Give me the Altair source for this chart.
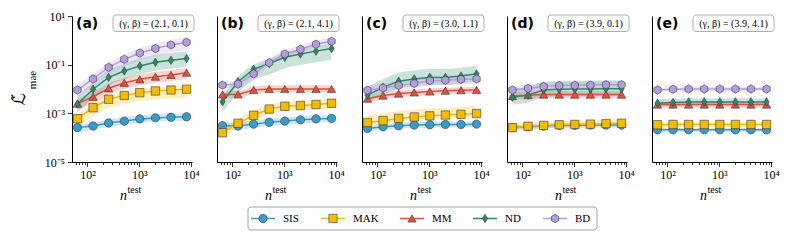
import altair as alt
import pandas as pd

# ---------------- data ----------------
N_TEST = [64, 128, 256, 512, 1024, 2048, 4096, 8192]
SERIES = ["SIS", "MAK", "MM", "ND", "BD"]
COLORS = ["#3a9bc9", "#f2bb05", "#e0503f", "#2b8a6c", "#b39ddd"]
PANEL_TAGS = ["(a)", "(b)", "(c)", "(d)", "(e)"]
PARAMS = ["(γ, β) = (2.1, 0.1)", "(γ, β) = (2.1, 4.1)", "(γ, β) = (3.0, 1.1)",
          "(γ, β) = (3.9, 0.1)", "(γ, β) = (3.9, 4.1)"]

A_SIS = [2.6e-4, 3.0e-4, 4.0e-4, 4.8e-4, 5.9e-4, 6.5e-4, 6.9e-4, 7.2e-4]
A_MAK = [6.0e-4, 1.7e-3, 3.8e-3, 5.4e-3, 7.1e-3, 8.3e-3, 9.1e-3, 9.8e-3]
A_MM = [2.5e-3, 4.8e-3, 1.07e-2, 1.8e-2, 2.5e-2, 3.2e-2, 3.8e-2, 4.7e-2]
A_ND = [2.4e-3, 9.8e-3, 3.0e-2, 5.5e-2, 8.9e-2, 0.126, 0.151, 0.178]
A_BD = [9.1e-3, 2.6e-2, 7.8e-2, 0.166, 0.30, 0.46, 0.65, 0.83]

B_SIS = [3.1e-4, 3.0e-4, 3.6e-4, 4.3e-4, 4.8e-4, 5.4e-4, 5.9e-4, 6.2e-4]
B_MAK = [1.6e-4, 3.9e-4, 8.3e-4, 1.5e-3, 1.95e-3, 2.1e-3, 2.3e-3, 2.6e-3]
B_MM = [6.0e-3, 6.0e-3, 9.1e-3, 1.0e-2, 1.0e-2, 1.0e-2, 1.0e-2, 1.0e-2]
B_ND = [3.0e-3, 2.0e-2, 6.5e-2, 0.112, 0.20, 0.275, 0.36, 0.46]
B_BD = [1.45e-2, 1.6e-2, 4.2e-2, 0.12, 0.275, 0.43, 0.69, 0.91]

C_SIS = [2.4e-4, 2.8e-4, 3.1e-4, 3.3e-4, 3.4e-4, 3.5e-4, 3.5e-4, 3.6e-4]
C_MAK = [4.2e-4, 5.0e-4, 6.2e-4, 7.1e-4, 7.9e-4, 8.5e-4, 9.1e-4, 9.8e-4]
C_MM = [4.0e-3, 5.4e-3, 6.5e-3, 7.2e-3, 7.9e-3, 8.5e-3, 8.9e-3, 9.1e-3]
C_ND = [5.6e-3, 1.17e-2, 2.1e-2, 2.6e-2, 3.0e-2, 3.0e-2, 3.4e-2, 4.2e-2]
C_BD = [8.9e-3, 1.1e-2, 1.4e-2, 1.7e-2, 2.2e-2, 2.3e-2, 2.5e-2, 2.6e-2]

D_SIS = [2.6e-4, 2.8e-4, 3.0e-4, 3.2e-4, 3.2e-4, 3.3e-4, 3.3e-4, 3.3e-4]
D_MAK = [2.6e-4, 2.95e-4, 3.2e-4, 3.4e-4, 3.5e-4, 3.6e-4, 3.8e-4, 3.9e-4]
D_MM = [5.1e-3, 5.6e-3, 5.9e-3, 5.9e-3, 5.9e-3, 5.9e-3, 5.9e-3, 5.9e-3]
D_ND = [4.6e-3, 5.6e-3, 9.1e-3, 9.8e-3, 1.0e-2, 1.0e-2, 1.02e-2, 1.02e-2]
D_BD = [9.1e-3, 1.07e-2, 1.26e-2, 1.38e-2, 1.41e-2, 1.45e-2, 1.5e-2, 1.5e-2]

E_SIS = [2.1e-4, 2.1e-4, 2.1e-4, 2.1e-4, 2.1e-4, 2.1e-4, 2.1e-4, 2.1e-4]
E_MAK = [3.4e-4, 3.5e-4, 3.5e-4, 3.5e-4, 3.5e-4, 3.5e-4, 3.5e-4, 3.5e-4]
E_MM = [2.3e-3, 2.3e-3, 2.3e-3, 2.3e-3, 2.3e-3, 2.3e-3, 2.3e-3, 2.3e-3]
E_ND = [2.6e-3, 2.8e-3, 2.95e-3, 2.95e-3, 2.95e-3, 2.95e-3, 2.95e-3, 2.95e-3]
E_BD = [9.1e-3, 9.8e-3, 1.0e-2, 1.0e-2, 1.0e-2, 1.0e-2, 1.0e-2, 1.0e-2]

# band extents as factors of the curve (lower, upper) per series
BAND_A_LO = [0.71, 0.45, 0.56, 0.45, 0.50]
BAND_A_HI = [1.41, 1.41, 1.58, 2.00, 1.58]
BAND_B_LO = [0.71, 0.63, 0.71, 0.35, 0.71]
BAND_B_HI = [1.41, 1.58, 1.41, 1.58, 1.41]
BAND_C_LO = [0.76, 0.76, 0.71, 0.50, 0.63]
BAND_C_HI = [1.32, 2.00, 1.32, 2.20, 1.58]
BAND_D_LO = [0.80, 0.76, 0.71, 0.50, 0.63]
BAND_D_HI = [1.26, 1.41, 1.41, 2.20, 1.41]
BAND_E_LO = [0.83, 0.80, 0.76, 0.71, 0.83]
BAND_E_HI = [1.20, 1.26, 1.32, 1.41, 1.20]

PANEL_VALUES = [
    [A_SIS, A_MAK, A_MM, A_ND, A_BD],
    [B_SIS, B_MAK, B_MM, B_ND, B_BD],
    [C_SIS, C_MAK, C_MM, C_ND, C_BD],
    [D_SIS, D_MAK, D_MM, D_ND, D_BD],
    [E_SIS, E_MAK, E_MM, E_ND, E_BD],
]
PANEL_BANDS = [
    (BAND_A_LO, BAND_A_HI), (BAND_B_LO, BAND_B_HI), (BAND_C_LO, BAND_C_HI),
    (BAND_D_LO, BAND_D_HI), (BAND_E_LO, BAND_E_HI),
]

# ---------------- style / layout ----------------
SERIF = "Liberation Serif"
W, H = 120, 146
THIN_DIAMOND = "M0,-1L0.62,0L0,1L-0.62,0Z"
HEXAGON = "M0,-1L0.866,-0.5L0.866,0.5L0,1L-0.866,0.5L-0.866,-0.5Z"
SHAPES = ["circle", "square", "triangle-up", THIN_DIAMOND, HEXAGON]
LEGEND_X = [191, 261, 340, 413, 483]   # marker centres, px from panel (a) origin
LEGEND_Y = 202.5

color_scale = alt.Scale(domain=SERIES, range=COLORS)
shape_scale = alt.Scale(domain=SERIES, range=SHAPES)
xscale = alt.Scale(type="log", domain=[50.2, 10420], nice=False)
yscale = alt.Scale(type="log", domain=[1e-5, 10], nice=False)

X_TICKS = [m * 10 ** k for k in (1, 2, 3) for m in range(1, 10) if 50 <= m * 10 ** k] + [10000]
MAJOR_TEST = "datum.value == 100 || datum.value == 1000 || datum.value == 10000"

x_axis = alt.Axis(
    values=X_TICKS,
    labelExpr="datum.value == 100 ? '10²' : datum.value == 1000 ? '10³' : datum.value == 10000 ? '10⁴' : ''",
    tickSize={"condition": {"test": MAJOR_TEST, "value": 4.5}, "value": 2.5},
    labelOverlap=False, labelFlush=False, title=None, grid=False, labelPadding=3,
)
y_axis_first = alt.Axis(
    values=[1e-5, 1e-3, 1e-1, 10],
    labelExpr="datum.value < 1e-4 ? '10⁻⁵' : datum.value < 1e-2 ? '10⁻³' : datum.value < 1 ? '10⁻¹' : '10¹'",
    tickSize=4.5, title=None, grid=False, labelPadding=3, labelOverlap=False, labelFlush=False,
)
y_axis_other = alt.Axis(values=[1e-5, 1e-3, 1e-1, 10], labels=False, ticks=False, title=None, grid=False)


def txt(text, x, y, **kw):
    return alt.Chart(pd.DataFrame({"t": [text]})).mark_text(**kw).encode(
        x=alt.value(x), y=alt.value(y), text="t:N")


def legend_layers():
    leg_df = pd.DataFrame({"series": SERIES})
    out = [alt.Chart(pd.DataFrame({"k": [0]})).mark_rect(
        fill="white", stroke="#8a8a8a", strokeWidth=0.8, cornerRadius=3).encode(
        x=alt.value(176), x2=alt.value(525), y=alt.value(LEGEND_Y - 11.5), y2=alt.value(LEGEND_Y + 11.5))]
    for k in range(len(SERIES)):
        row = alt.Chart(leg_df.iloc[[k]])
        lx = LEGEND_X[k]
        out.append(row.mark_rule(color=COLORS[k], strokeWidth=1.5).encode(
            x=alt.value(lx - 12), x2=alt.value(lx + 12), y=alt.value(LEGEND_Y)))
        out.append(row.mark_point(filled=True, opacity=1, size=70, shape=SHAPES[k], fill=COLORS[k],
                                  stroke="#3a3a3a", strokeWidth=0.6).encode(
            x=alt.value(lx), y=alt.value(LEGEND_Y)))
        out.append(row.mark_text(font=SERIF, fontSize=11, align="left", baseline="middle").encode(
            x=alt.value(lx + 20), y=alt.value(LEGEND_Y + 0.5), text="series:N"))
    return out


def panel(i):
    rows = []
    lo_f, hi_f = PANEL_BANDS[i]
    for s_idx, s in enumerate(SERIES):
        for n, v in zip(N_TEST, PANEL_VALUES[i][s_idx]):
            rows.append({"n": n, "series": s, "order": s_idx, "value": v,
                         "lo": v * lo_f[s_idx], "hi": v * hi_f[s_idx]})
    df = pd.DataFrame(rows)
    base = alt.Chart(df)
    x = alt.X("n:Q", scale=xscale, axis=x_axis)
    yax = y_axis_first if i == 0 else y_axis_other
    band = base.mark_area(opacity=0.25, interpolate="monotone").encode(
        x=x, y=alt.Y("lo:Q", scale=yscale, axis=yax), y2="hi:Q",
        color=alt.Color("series:N", scale=color_scale, legend=None),
        order="order:Q")
    line = base.mark_line(strokeWidth=1.5).encode(
        x=x, y=alt.Y("value:Q", scale=yscale),
        color=alt.Color("series:N", scale=color_scale, legend=None))
    pts = base.mark_point(filled=True, opacity=1, size=70, stroke="#3a3a3a", strokeWidth=0.6).encode(
        x=x, y=alt.Y("value:Q", scale=yscale),
        fill=alt.Fill("series:N", scale=color_scale, legend=None),
        shape=alt.Shape("series:N", scale=shape_scale, legend=None),
        order="order:Q")
    box = alt.Chart(pd.DataFrame({"k": [0]})).mark_rect(
        fill="white", stroke="#9a9a9a", strokeWidth=0.8, cornerRadius=3).encode(
        x=alt.value(41), x2=alt.value(122), y=alt.value(-1), y2=alt.value(15.5))
    layers = [band, line, pts, box,
              txt(PARAMS[i], 81.5, 7.5, font=SERIF, fontSize=10, align="center", baseline="middle"),
              txt(PANEL_TAGS[i], 4, 8, font="DejaVu Sans", fontWeight="bold", fontSize=14,
                  align="left", baseline="middle"),
              txt("n", 55, 184, font=SERIF, fontStyle="italic", fontSize=14, align="right",
                  baseline="alphabetic"),
              txt("test", 55.5, 177, font=SERIF, fontSize=10, align="left", baseline="alphabetic")]
    if i == 0:
        layers += [
            txt("ℒ\u0303", -52, 83, font="DejaVu Sans", fontSize=17, angle=270, align="center",
                baseline="middle"),
            txt("mae", -39, 64, font=SERIF, fontSize=11, angle=270, align="center", baseline="middle"),
        ]
        layers += legend_layers()
    return alt.layer(*layers).properties(width=W, height=H)


panels = [panel(i) for i in range(5)]

chart = alt.hconcat(*panels, spacing=25, bounds="flush").properties(
    padding={"left": 3, "top": 2, "right": 2, "bottom": 2}
).configure_view(stroke=None).configure_axis(
    domainColor="black", domainWidth=1, tickColor="black", tickWidth=0.8,
    labelFont=SERIF, labelFontSize=12, labelColor="black",
)

chart.save("out.html", embed_options={"renderer": "svg", "actions": False})
